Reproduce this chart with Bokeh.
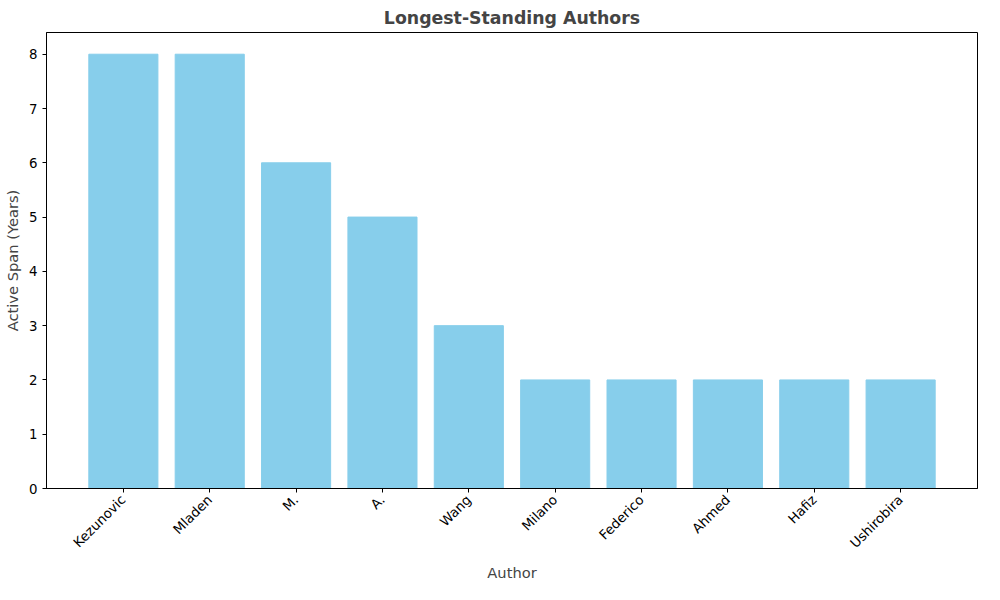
from bokeh.plotting import figure
from bokeh.models import FixedTicker, Range1d
from bokeh.embed import file_html
from bokeh.resources import INLINE
import math

authors = ["Kezunovic", "Mladen", "M.", "A.", "Wang", "Milano", "Federico", "Ahmed", "Hafiz", "Ushirobira"]
spans = [8, 8, 6, 5, 3, 2, 2, 2, 2, 2]
positions = list(range(len(authors)))

p = figure(width=984, height=584, output_backend="svg", toolbar_location=None, tools="",
           x_range=Range1d(-0.89, 9.89), y_range=Range1d(0, 8.4),
           title="Longest-Standing Authors",
           min_border_left=46, min_border_right=7, min_border_top=30, min_border_bottom=89)

p.vbar(x=positions, top=spans, width=0.8, color="#87CEEB")

p.title.align = "center"
p.title.text_font = "DejaVu Sans"
p.title.text_font_size = "13pt"
p.title.text_font_style = "bold"

p.xaxis.ticker = FixedTicker(ticks=positions)
p.xaxis.major_label_overrides = {i: a for i, a in enumerate(authors)}
p.xaxis.major_label_orientation = math.pi / 4
p.yaxis.ticker = FixedTicker(ticks=list(range(9)))

p.xaxis.axis_label = "Author"
p.yaxis.axis_label = "Active Span (Years)"
for ax in (p.xaxis, p.yaxis):
    ax.axis_label_text_font = "DejaVu Sans"
    ax.axis_label_text_font_size = "11pt"
    ax.axis_label_text_font_style = "normal"
    ax.major_label_text_font = "DejaVu Sans"
    ax.major_label_text_font_size = "10pt"
    ax.major_label_text_color = "black"
    ax.minor_tick_line_color = None
    ax.major_tick_out = 4
    ax.major_tick_in = 0
    ax.axis_line_color = "black"

p.grid.grid_line_color = None
p.outline_line_color = "black"
p.outline_line_alpha = 1

open("out.html", "w").write(file_html(p, INLINE))
